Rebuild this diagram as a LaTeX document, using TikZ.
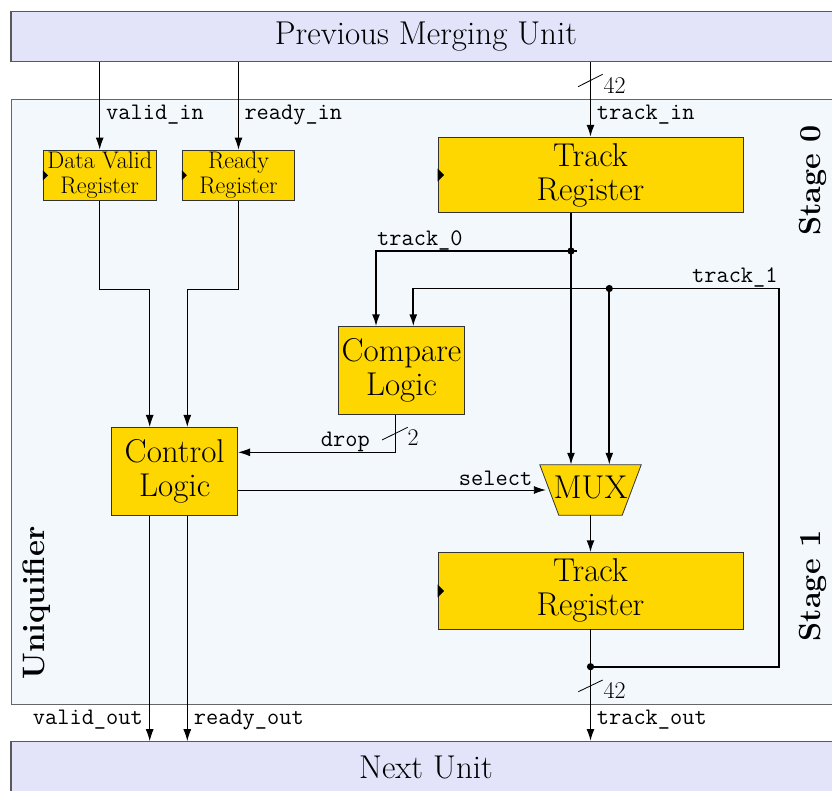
\documentclass[tikz,border=0pt]{standalone}
\usepackage{fontspec}
\usetikzlibrary{arrows.meta,calc}
\definecolor{unitfill}{RGB}{227,227,250}
\definecolor{uniqfill}{RGB}{243,248,253}
\definecolor{regfill}{RGB}{255,215,0}
\newcommand{\fBig}{\fontsize{33}{34}\selectfont}
\newcommand{\fReg}{\fontsize{24}{25}\selectfont}
\newcommand{\fSig}{\fontsize{23.7}{25}\selectfont\ttfamily}
\newcommand{\fNum}{\fontsize{24}{25}\selectfont}
\newcommand{\fStage}{\fontsize{30.5}{32}\selectfont\bfseries}
\newcommand{\fUniq}{\fontsize{31}{32}\selectfont\bfseries}
\begin{document}
\begin{tikzpicture}[x=1pt,y=-1pt,
  unitbox/.style={draw=black!65, line width=1.2pt, fill=unitfill, minimum width=830pt, inner sep=0pt, font=\fBig},
  regbox/.style={draw=black!80, line width=0.8pt, fill=regfill, inner sep=0pt, align=center},
  thinarrow/.style={line width=0.9pt, -{Latex[length=12pt,width=8pt]}},
  thickarrow/.style={line width=1.8pt, -{Latex[length=12pt,width=8pt]}},
  siglabel/.style={font=\fSig, inner sep=0pt},
  numlabel/.style={font=\fNum, inner sep=0pt},
  buscut/.style={line width=0.8pt},
  stagelabel/.style={font=\fStage, rotate=90, inner sep=0pt}]
\useasboundingbox (0,0) rectangle (832,790);
\clip (0,0) rectangle (832,790);

% containers
\node[draw=black!60, line width=1pt, fill=uniqfill, minimum width=830pt, minimum height=604.7pt, inner sep=0pt] (uniq) at (426,401.7) {};
\node[unitbox, minimum height=50.4pt] (prev) at (426,36.5) {Previous Merging Unit};
\node[unitbox, minimum height=52pt] (next) at (426,767.7) {Next Unit};

% blocks
\node[regbox, minimum width=112.7pt, minimum height=50.7pt, font=\fReg] (dvreg) at (99.7,175.3) {Data Valid\\Register};
\node[regbox, minimum width=112.4pt, minimum height=50.7pt, font=\fReg] (rdreg) at (238.5,175.3) {Ready\\Register};
\node[regbox, minimum width=305pt, minimum height=75.4pt, font=\fBig] (treg0) at (590.5,175) {Track\\Register};
\node[regbox, minimum width=126.3pt, minimum height=87.6pt, font=\fBig] (cmp) at (401.5,370.5) {Compare\\Logic};
\node[regbox, minimum width=126pt, minimum height=88.4pt, font=\fBig] (ctrl) at (174.7,471.5) {Control\\Logic};
\node[regbox, minimum width=305pt, minimum height=76.3pt, font=\fBig] (treg1) at (590.5,590.9) {Track\\Register};
\node[inner sep=0pt, minimum width=101pt, minimum height=50pt] (mux) at (590.5,490) {};
\filldraw[fill=regfill, draw=black!80, line width=0.8pt] (mux.north west) -- (mux.north east) -- ($(mux.south east)+(-19,0)$) -- ($(mux.south west)+(19,0)$) -- cycle;
\node[font=\fBig, inner sep=0pt] (muxtext) at ([yshift=3pt]mux.center) {MUX};

% clock marks
\fill ($(dvreg.west)+(0,-5)$) -- ($(dvreg.west)+(5,0)$) -- ($(dvreg.west)+(0,5)$) -- cycle;
\fill ($(rdreg.west)+(0,-5)$) -- ($(rdreg.west)+(5,0)$) -- ($(rdreg.west)+(0,5)$) -- cycle;
\fill ($(treg0.west)+(0,-6.5)$) -- ($(treg0.west)+(6.5,0)$) -- ($(treg0.west)+(0,6.5)$) -- cycle;
\fill ($(treg1.west)+(0,-6.5)$) -- ($(treg1.west)+(6.5,0)$) -- ($(treg1.west)+(0,6.5)$) -- cycle;

% helper coordinates
\coordinate (j0) at (571,251);
\coordinate (j0e) at (577,251);
\coordinate (c0) at (376,251);
\coordinate (j1) at (609.3,288.5);
\coordinate (c1) at (413.3,288.5);
\coordinate (j2) at (590.5,666.7);
\coordinate (rx) at (779.3,666.7);
\coordinate (dvk) at (149.7,289);
\coordinate (rdk) at (187.3,289);
\coordinate (dropc) at (395.7,452.3);
\coordinate (muxin) at ($(mux.west)+(6,0)$);

% inputs
\draw[thinarrow] (prev.south -| dvreg.north) -- (dvreg.north);
\draw[thinarrow] (prev.south -| rdreg.north) -- (rdreg.north);
\draw[thickarrow] (prev.south -| treg0.north) -- (treg0.north);
\draw[buscut] (578,86.7) -- (602.7,74.3);

% registers to control
\draw[thinarrow] (dvreg.south) |- (dvk) -- (dvk |- ctrl.north);
\draw[thinarrow] (rdreg.south) |- (rdk) -- (rdk |- ctrl.north);

% track datapath
\draw[thickarrow] (treg0.south -| j0) -- (j0 |- mux.north);
\draw[thickarrow] (j0e) -- (c0) -- (c0 |- cmp.north);
\draw[thickarrow] (treg1.south) -- (j2) -- (rx) -- (rx |- j1) -- (c1) -- (c1 |- cmp.north);
\draw[thickarrow] (j1) -- (j1 |- mux.north);
\draw[thickarrow] (mux.south) -- (treg1.north);
\draw[thickarrow] (j2) -- (j2 |- next.north);
\draw[buscut] (578.3,691.7) -- (602.7,680);
\fill (j0) circle (3.6pt);
\fill (j1) circle (3.6pt);
\fill (j2) circle (3.6pt);

% control signals
\draw[thinarrow] (cmp.south -| dropc) -- (dropc) -- (dropc -| ctrl.east);
\draw[buscut] (382,440) -- (407.7,427.3);
\draw[thinarrow] (ctrl.east |- mux.west) -- (muxin);
\draw[thinarrow] (dvk |- ctrl.south) -- (dvk |- next.north);
\draw[thinarrow] (rdk |- ctrl.south) -- (rdk |- next.north);

% labels
\node[siglabel, anchor=base west] (lvin) at (106,119) {valid\_in};
\node[siglabel, anchor=base west] (lrin) at (244.3,119) {ready\_in};
\node[siglabel, anchor=base west] (ltin) at (596.7,119) {track\_in};
\node[numlabel, anchor=base west] (lw0) at (603.3,93.3) {42};
\node[siglabel, anchor=base west] (lt0) at (377,245) {track\_0};
\node[siglabel, anchor=base east] (lt1) at (777.8,282.7) {track\_1};
\node[siglabel, anchor=base east] (ldrop) at (370,446) {drop};
\node[numlabel, anchor=base west] (lw2) at (407.3,445.7) {2};
\node[siglabel, anchor=base east] (lsel) at (532.4,485) {select};
\node[siglabel, anchor=base east] (lvout) at (143,724) {valid\_out};
\node[siglabel, anchor=base west] (lrout) at (193.7,724) {ready\_out};
\node[siglabel, anchor=base west] (ltout) at (596.7,724) {track\_out};
\node[numlabel, anchor=base west] (lw1) at (603.3,698.3) {42};
\node[stagelabel] (st0) at (812.5,180.5) {Stage 0};
\node[stagelabel] (st1) at (812.5,586) {Stage 1};
\node[stagelabel, font=\fUniq] (uql) at (37,603) {Uniquifier};
\end{tikzpicture}
\end{document}
